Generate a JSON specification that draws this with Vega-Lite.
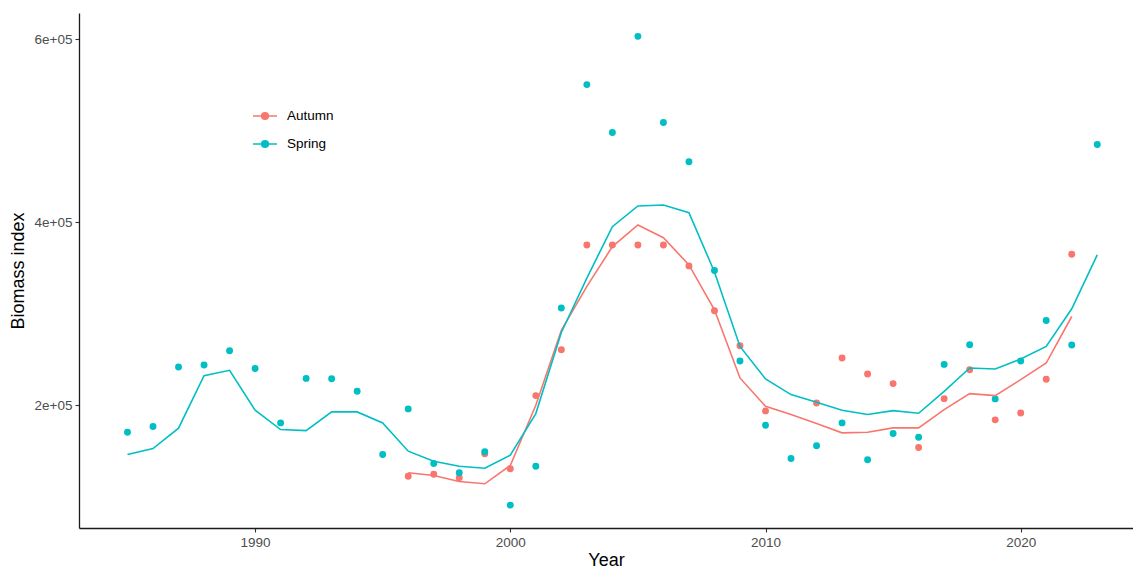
{
  "$schema": "https://vega.github.io/schema/vega-lite/v6.json",
  "width": 1054,
  "height": 515,
  "autosize": {"type": "none"},
  "padding": {"left": 79, "top": 13, "right": 0, "bottom": 42},
  "background": "white",
  "config": {
    "view": {"stroke": null},
    "font": "Liberation Sans",
    "axis": {
      "grid": false,
      "domainColor": "#1a1a1a",
      "domainWidth": 1.3,
      "tickColor": "#333333",
      "tickWidth": 1.1,
      "tickSize": 4,
      "labelColor": "#4D4D4D",
      "labelFontSize": 13.5,
      "labelFont": "Liberation Sans",
      "titleFont": "Liberation Sans",
      "titleFontSize": 18,
      "titleFontWeight": "normal",
      "titleColor": "#000000"
    }
  },
  "data": {
    "values": [
      {"Year": 1996, "Season": "Autumn", "Index": 122600, "Fit": 126300},
      {"Year": 1997, "Season": "Autumn", "Index": 124800, "Fit": 123400},
      {"Year": 1998, "Season": "Autumn", "Index": 120900, "Fit": 116800},
      {"Year": 1999, "Season": "Autumn", "Index": 147000, "Fit": 114300},
      {"Year": 2000, "Season": "Autumn", "Index": 130700, "Fit": 134300},
      {"Year": 2001, "Season": "Autumn", "Index": 210600, "Fit": 200000},
      {"Year": 2002, "Season": "Autumn", "Index": 260700, "Fit": 282000},
      {"Year": 2003, "Season": "Autumn", "Index": 375200, "Fit": 330000},
      {"Year": 2004, "Season": "Autumn", "Index": 375200, "Fit": 373300},
      {"Year": 2005, "Season": "Autumn", "Index": 375200, "Fit": 397000},
      {"Year": 2006, "Season": "Autumn", "Index": 375200, "Fit": 383100},
      {"Year": 2007, "Season": "Autumn", "Index": 352300, "Fit": 353400},
      {"Year": 2008, "Season": "Autumn", "Index": 303200, "Fit": 304300},
      {"Year": 2009, "Season": "Autumn", "Index": 265100, "Fit": 229900},
      {"Year": 2010, "Season": "Autumn", "Index": 193900, "Fit": 198900},
      {"Year": 2011, "Season": "Autumn", "Index": null, "Fit": 189900},
      {"Year": 2012, "Season": "Autumn", "Index": 202600, "Fit": 180100},
      {"Year": 2013, "Season": "Autumn", "Index": 251700, "Fit": 169900},
      {"Year": 2014, "Season": "Autumn", "Index": 234200, "Fit": 170600},
      {"Year": 2015, "Season": "Autumn", "Index": 223700, "Fit": 175400},
      {"Year": 2016, "Season": "Autumn", "Index": 153900, "Fit": 175400},
      {"Year": 2017, "Season": "Autumn", "Index": 207300, "Fit": 195300},
      {"Year": 2018, "Season": "Autumn", "Index": 238900, "Fit": 212800},
      {"Year": 2019, "Season": "Autumn", "Index": 184100, "Fit": 210600},
      {"Year": 2020, "Season": "Autumn", "Index": 191700, "Fit": 228000},
      {"Year": 2021, "Season": "Autumn", "Index": 228400, "Fit": 246200},
      {"Year": 2022, "Season": "Autumn", "Index": 365000, "Fit": 297000},
      {"Year": 1985, "Season": "Spring", "Index": 170600, "Fit": 146300},
      {"Year": 1986, "Season": "Spring", "Index": 176800, "Fit": 152800},
      {"Year": 1987, "Season": "Spring", "Index": 241900, "Fit": 175000},
      {"Year": 1988, "Season": "Spring", "Index": 244000, "Fit": 232400},
      {"Year": 1989, "Season": "Spring", "Index": 259600, "Fit": 238200},
      {"Year": 1990, "Season": "Spring", "Index": 240300, "Fit": 194600},
      {"Year": 1991, "Season": "Spring", "Index": 180800, "Fit": 173500},
      {"Year": 1992, "Season": "Spring", "Index": 229400, "Fit": 172400},
      {"Year": 1993, "Season": "Spring", "Index": 229100, "Fit": 192800},
      {"Year": 1994, "Season": "Spring", "Index": 215300, "Fit": 192800},
      {"Year": 1995, "Season": "Spring", "Index": 146300, "Fit": 180800},
      {"Year": 1996, "Season": "Spring", "Index": 196100, "Fit": 149900},
      {"Year": 1997, "Season": "Spring", "Index": 136500, "Fit": 139000},
      {"Year": 1998, "Season": "Spring", "Index": 126300, "Fit": 133500},
      {"Year": 1999, "Season": "Spring", "Index": 149200, "Fit": 131300},
      {"Year": 2000, "Season": "Spring", "Index": 91000, "Fit": 145500},
      {"Year": 2001, "Season": "Spring", "Index": 133500, "Fit": 191000},
      {"Year": 2002, "Season": "Spring", "Index": 306200, "Fit": 279600},
      {"Year": 2003, "Season": "Spring", "Index": 550300, "Fit": 339000},
      {"Year": 2004, "Season": "Spring", "Index": 498000, "Fit": 395100},
      {"Year": 2005, "Season": "Spring", "Index": 603000, "Fit": 417700},
      {"Year": 2006, "Season": "Spring", "Index": 508900, "Fit": 418800},
      {"Year": 2007, "Season": "Spring", "Index": 466000, "Fit": 410400},
      {"Year": 2008, "Season": "Spring", "Index": 347200, "Fit": 345700},
      {"Year": 2009, "Season": "Spring", "Index": 248400, "Fit": 264300},
      {"Year": 2010, "Season": "Spring", "Index": 178200, "Fit": 228800},
      {"Year": 2011, "Season": "Spring", "Index": 141900, "Fit": 211700},
      {"Year": 2012, "Season": "Spring", "Index": 155800, "Fit": 203300},
      {"Year": 2013, "Season": "Spring", "Index": 180800, "Fit": 194600},
      {"Year": 2014, "Season": "Spring", "Index": 140500, "Fit": 189900},
      {"Year": 2015, "Season": "Spring", "Index": 169200, "Fit": 194200},
      {"Year": 2016, "Season": "Spring", "Index": 165100, "Fit": 191300},
      {"Year": 2017, "Season": "Spring", "Index": 244700, "Fit": 215300},
      {"Year": 2018, "Season": "Spring", "Index": 266200, "Fit": 240800},
      {"Year": 2019, "Season": "Spring", "Index": 207000, "Fit": 239700},
      {"Year": 2020, "Season": "Spring", "Index": 248400, "Fit": 250600},
      {"Year": 2021, "Season": "Spring", "Index": 292700, "Fit": 264300},
      {"Year": 2022, "Season": "Spring", "Index": 265800, "Fit": 305400},
      {"Year": 2023, "Season": "Spring", "Index": 484900, "Fit": 364300}
    ]
  },
  "encoding": {
    "x": {
      "field": "Year",
      "type": "quantitative",
      "scale": {"domain": [1983.1, 2024.4], "nice": false, "zero": false},
      "axis": {"values": [1990, 2000, 2010, 2020], "format": "d", "title": "Year", "labelPadding": 3, "titlePadding": 3}
    },
    "color": {
      "field": "Season",
      "type": "nominal",
      "scale": {"domain": ["Autumn", "Spring"], "range": ["#F8766D", "#00BFC4"]},
      "legend": {
        "title": null,
        "orient": "none",
        "legendX": 173,
        "legendY": 90,
        "padding": 0,
        "symbolType": "M-1,0L1,0M-0.28,0A0.28,0.28,0,1,0,0.28,0A0.28,0.28,0,1,0,-0.28,0Z",
        "symbolSize": 576,
        "symbolStrokeWidth": 1.5,
        "symbolOpacity": 1,
        "labelFont": "Liberation Sans",
        "labelFontSize": 13.5,
        "labelColor": "#000000",
        "labelOffset": 9,
        "rowPadding": 8,
        "encode": {
          "symbols": {
            "update": {
              "fill": {"scale": "color", "field": "value"},
              "stroke": {"scale": "color", "field": "value"}
            }
          }
        }
      }
    }
  },
  "layer": [
    {
      "mark": {"type": "point", "filled": true, "opacity": 1, "size": 48},
      "encoding": {
        "y": {
          "field": "Index",
          "type": "quantitative",
          "scale": {"domain": [66000, 628500], "nice": false, "zero": false},
          "axis": {
            "values": [200000, 400000, 600000],
            "labelExpr": "replace(format(datum.value, '.0e'), 'e+', 'e+0')",
            "title": "Biomass index",
            "labelPadding": 3,
            "titlePadding": 7
          }
        }
      }
    },
    {
      "mark": {"type": "line", "strokeWidth": 1.6},
      "encoding": {
        "y": {"field": "Fit", "type": "quantitative"}
      }
    }
  ]
}
